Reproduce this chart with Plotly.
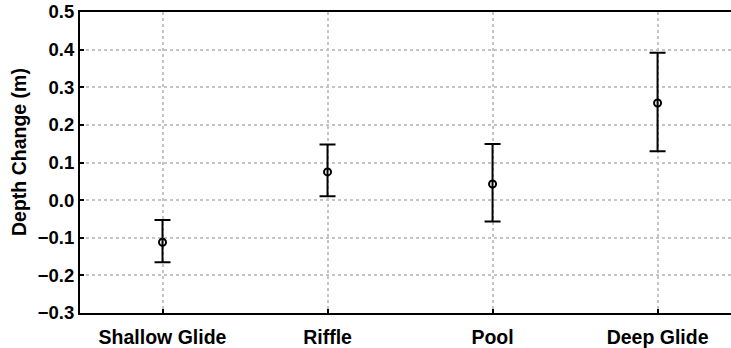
import plotly.graph_objects as go

categories = ["Shallow Glide", "Riffle", "Pool", "Deep Glide"]
means = [-0.112, 0.075, 0.043, 0.258]
upper = [-0.053, 0.148, 0.149, 0.392]
lower = [-0.165, 0.010, -0.057, 0.130]
y_ticks = [-0.3, -0.2, -0.1, 0.0, 0.1, 0.2, 0.3, 0.4, 0.5]

err_plus = [u - m for u, m in zip(upper, means)]
err_minus = [m - l for m, l in zip(means, lower)]

fig = go.Figure()
fig.add_trace(go.Scatter(
    x=categories, y=means, mode="markers",
    marker=dict(symbol="circle-open", size=7, color="black", line=dict(width=2, color="black")),
    error_y=dict(type="data", symmetric=False, array=err_plus, arrayminus=err_minus,
                 color="black", thickness=2, width=8),
    showlegend=False,
))

font_family = "Liberation Sans, Arial, sans-serif"
fig.update_layout(
    width=731, height=348,
    margin=dict(l=80, r=0, t=12, b=35),
    paper_bgcolor="white", plot_bgcolor="white",
    font=dict(family=font_family, color="black"),
    xaxis=dict(
        type="category", range=[-0.5, 3.445],
        showline=True, linecolor="black", linewidth=2, mirror=True,
        showgrid=True, gridcolor="#c4c4c4", gridwidth=1.5, griddash="3px,3px",
        ticks="inside", ticklen=4, tickcolor="black", tickwidth=1.5,
        tickfont=dict(size=19.5, family=font_family, weight="bold"),
        ticklabelstandoff=6,
        zeroline=False,
    ),
    yaxis=dict(
        range=[-0.3, 0.5], tickvals=y_ticks, tickformat=".1f",
        showline=True, linecolor="black", linewidth=2, mirror=False,
        showgrid=True, gridcolor="#c4c4c4", gridwidth=1.5, griddash="3px,3px",
        ticks="inside", ticklen=4, tickcolor="black", tickwidth=1.5,
        tickfont=dict(size=18.5, family=font_family, weight="bold"),
        zeroline=False,
    ),
    annotations=[dict(
        text="<b>Depth Change (m)</b>", textangle=-90,
        xref="paper", yref="paper", x=-0.0937, y=0.535,
        xanchor="center", yanchor="middle", showarrow=False,
        font=dict(size=19.5, family=font_family, color="black"),
    )],
)

fig.write_html("out.html")
